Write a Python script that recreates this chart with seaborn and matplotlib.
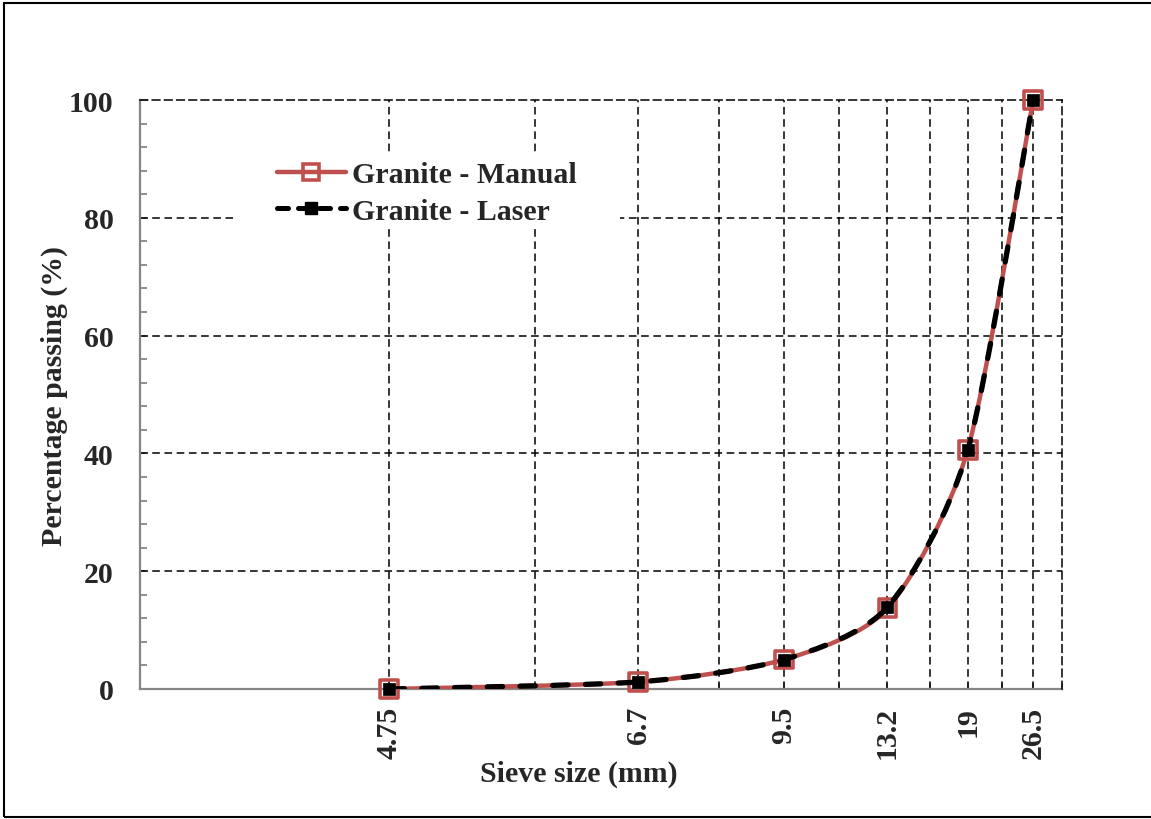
import numpy as np
import matplotlib
matplotlib.use("Agg")
import matplotlib.pyplot as plt
import seaborn as sns
from matplotlib.path import Path
from matplotlib.patches import PathPatch, Rectangle
from matplotlib.lines import Line2D

# Sieve sizes (mm) and cumulative percentage passing
sieve_labels = ["4.75", "6.7", "9.5", "13.2", "19", "26.5"]
manual_passing = [0.0, 1.2, 5.0, 13.7, 40.6, 100.0]
laser_passing = [0.0, 1.2, 5.0, 13.9, 40.5, 100.0]
series_names = ["Granite - Manual", "Granite - Laser"]
y_ticks = [0, 20, 40, 60, 80, 100]

# Sieves sit on every second slot of a log-spaced axis running 1..13
slots = np.arange(1, 14)
sieve_pos = np.array([2 * (i + 1) for i in range(len(sieve_labels))], dtype=float)

RED = "#c0504d"
GRAY = "#868686"
W, H = 1151, 820

sns.set_style("white")
plt.rcParams["font.family"] = ["Liberation Serif", "DejaVu Serif"]
plt.rcParams["font.weight"] = "bold"
FS = 21.5

fig = plt.figure(figsize=(W / 100, H / 100), dpi=100)
ax = fig.add_axes([140 / W, 1 - 690 / H, 922 / W, 589 / H])
ax.set_xscale("log")
ax.set_xlim(1, 13)
ax.set_ylim(0, 100)

# grid
dash = (0, (5, 3))
for s in slots[1:-1]:
    ax.axvline(s, color="black", lw=1.1, ls=dash, zorder=1)
for v in y_ticks[1:-1]:
    ax.axhline(v, color="black", lw=1.1, ls=dash, zorder=1)

for side in ["top", "right"]:
    ax.spines[side].set_color("black")
    ax.spines[side].set_linewidth(1.1)
    ax.spines[side].set_linestyle(dash)
for side in ["left", "bottom"]:
    ax.spines[side].set_color(GRAY)
    ax.spines[side].set_linewidth(1.6)
    ax.spines[side].set_zorder(2)

# white panel behind the legend
ax.add_patch(Rectangle((233 / W, 1 - 228 / H), 387 / W, 73 / H,
                       facecolor="white", edgecolor="none",
                       transform=fig.transFigure, zorder=1.5))


def smooth_path(xs, ys, k=8.0):
    """Cubic Bezier through the points (Catmull-Rom style), built in log-x space."""
    pts = np.column_stack([np.log10(xs), ys])
    n = len(pts)
    verts = [pts[0]]
    codes = [Path.MOVETO]
    for i in range(n - 1):
        p0 = pts[i - 1] if i > 0 else pts[i]
        p1, p2 = pts[i], pts[i + 1]
        p3 = pts[i + 2] if i + 2 < n else pts[i + 1]
        verts += [p1 + (p2 - p0) / k, p2 - (p3 - p1) / k, p2]
        codes += [Path.CURVE4] * 3
    verts = np.array(verts)
    verts[:, 0] = 10 ** verts[:, 0]
    return Path(verts, codes)


laser_ls = (0, (2.9, 3.3))

ax.add_patch(PathPatch(smooth_path(sieve_pos, manual_passing), fill=False,
                       edgecolor=RED, lw=3.2, transform=ax.transData, zorder=3,
                       capstyle="round", joinstyle="round"))
sns.scatterplot(x=sieve_pos, y=manual_passing, marker="s", s=165,
                facecolor="none", edgecolor=RED, linewidth=2.6, zorder=4, ax=ax,
                clip_on=False)
ax.add_patch(PathPatch(smooth_path(sieve_pos, laser_passing), fill=False,
                       edgecolor="black", lw=3.8, ls=laser_ls, capstyle="round",
                       transform=ax.transData, zorder=5))
sns.scatterplot(x=sieve_pos, y=laser_passing, marker="s", s=85,
                color="black", edgecolor="black", linewidth=0.5, zorder=6, ax=ax,
                clip_on=False)

# ticks
ax.set_xticks(sieve_pos)
ax.set_xticklabels(sieve_labels, rotation=90, fontsize=FS, fontweight="bold")
ax.set_xticks([s for s in slots if s not in sieve_pos], minor=True)
ax.xaxis.set_minor_formatter(matplotlib.ticker.NullFormatter())
ax.set_yticks(y_ticks)
ax.set_yticklabels([str(v) for v in y_ticks], fontsize=FS, fontweight="bold")
ax.set_yticks(np.arange(0, 101, 4), minor=True)
ax.tick_params(axis="both", which="both", direction="in", color=GRAY, width=1.3)
ax.tick_params(axis="x", which="both", length=4, pad=12, bottom=True)
ax.tick_params(axis="y", which="major", length=6, pad=19, left=True)
ax.tick_params(axis="y", which="minor", length=5, left=True)

ax.set_xlabel("Sieve size (mm)", fontsize=FS, fontweight="bold")
ax.xaxis.set_label_coords((579 - 140) / 922, (690 - 761) / 589)
ax.set_ylabel("Percentage passing (%)", fontsize=FS, fontweight="bold")
ax.yaxis.label.set_va("center")
ax.yaxis.set_label_coords((54 - 140) / 922, 0.5)

# legend
handles = [
    Line2D([], [], color=RED, lw=3.2, marker="s", ms=11.5, mfc="none", mec=RED,
           mew=2.6),
    Line2D([], [], color="black", lw=3.6, ls=(0, (2.2, 2.0)), marker="s", ms=9,
           mfc="black", mec="black", dash_capstyle="round"),
]
leg = ax.legend(handles, series_names, loc="upper left",
                bbox_to_anchor=(277 / W, 1 - 162 / H),
                bbox_transform=fig.transFigure, frameon=False,
                prop={"size": FS, "weight": "bold"}, handlelength=2.3,
                handletextpad=0.2, labelspacing=0.32, borderpad=0,
                borderaxespad=0)
leg.set_zorder(7)

# outer frame
fig.patches.append(Rectangle((4 / W, 2 / H), 1.2, 814 / H, fill=False,
                             edgecolor="black", lw=1.5,
                             transform=fig.transFigure, figure=fig))

fig.savefig("out.png", dpi=100)
